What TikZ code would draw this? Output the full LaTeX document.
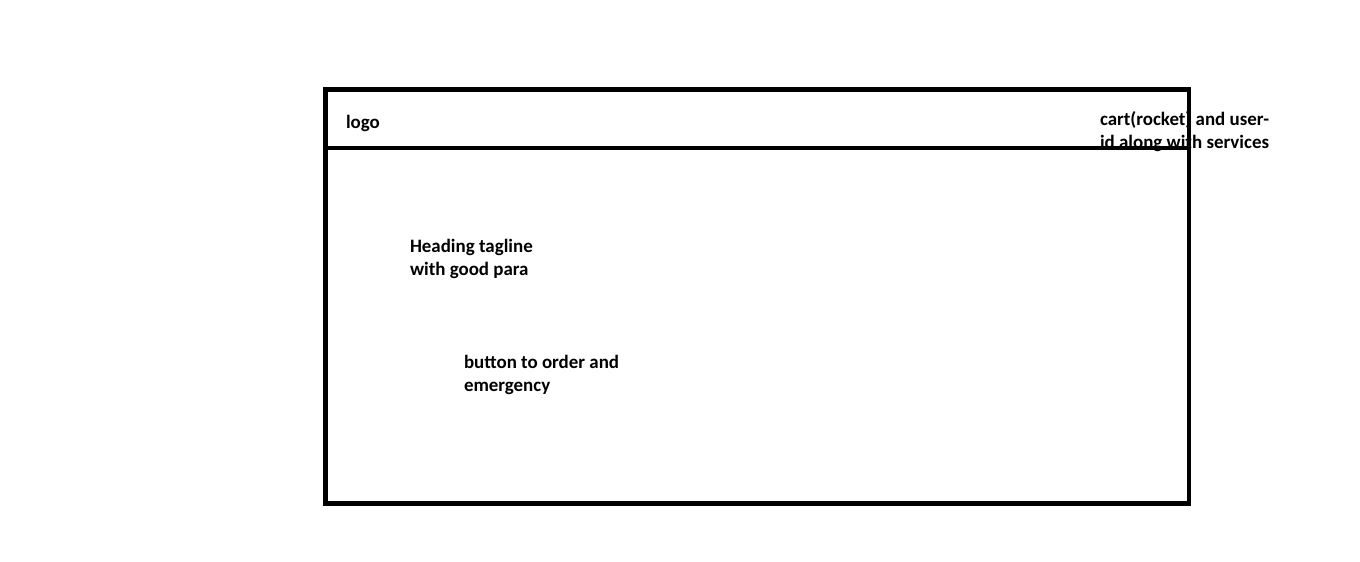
\documentclass[tikz,border=0pt]{standalone}
\usepackage{fontspec}
\setmainfont{Carlito}
\begin{document}
\begin{tikzpicture}[x=0.75pt,y=-0.75pt,
  lbl/.style={inner sep=0pt,outer sep=0pt,anchor=base west,align=left,
    font=\bfseries\fontsize{14.2pt}{17.25pt}\selectfont},
  frame/.style={line width=3.6pt,draw=black}]
\useasboundingbox[fill=white] (0,0) rectangle (1360,561);
\node[lbl] (logo) at (346,128) {logo};
\node[lbl] (cart) at (1100,148) {cart(rocket) and user-\\id along with services};
\node[lbl] (head) at (410,275.7) {Heading tagline\\with good para};
\node[lbl] (btn) at (464,391.7) {button to order and\\emergency};
\coordinate (tl) at (325.5,89.5);
\coordinate (br) at (1189,503.5);
\coordinate (hl) at (325.5,148);
\coordinate (hr) at (1189,148);
\draw[frame] (tl) rectangle (br);
\draw[frame] (hl) -- (hr);
\end{tikzpicture}
\end{document}
